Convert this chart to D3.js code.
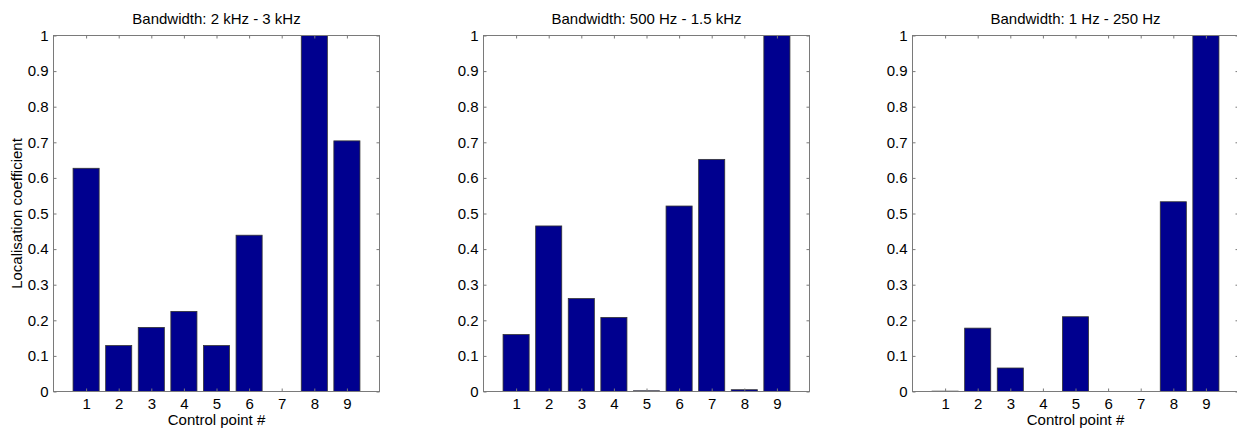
<!DOCTYPE html>
<html>
<head>
<meta charset="utf-8">
<script src="https://cdn.jsdelivr.net/npm/d3@7"></script>
<style>
  body { margin: 0; background: #fff; }
  svg text { font-family: "Liberation Sans", Arial, sans-serif; fill: #000; }
</style>
</head>
<body>
<svg id="chart" width="1237" height="429"></svg>
<script>
// control point numbers on the x axis
var controlPoints = [1, 2, 3, 4, 5, 6, 7, 8, 9];

// localisation coefficient per bandwidth
var band2to3k    = [0.627, 0.129, 0.180, 0.225, 0.129, 0.439, 0.000, 1.000, 0.704];
var band500to1k5 = [0.160, 0.465, 0.261, 0.208, 0.002, 0.521, 0.652, 0.005, 1.000];
var band1to250   = [0.001, 0.178, 0.066, 0.000, 0.210, 0.000, 0.000, 0.533, 1.000];

var titles = ["Bandwidth: 2 kHz - 3 kHz", "Bandwidth: 500 Hz - 1.5 kHz", "Bandwidth: 1 Hz - 250 Hz"];
var yTicks = [0, 0.1, 0.2, 0.3, 0.4, 0.5, 0.6, 0.7, 0.8, 0.9, 1];

var panels = [
  { title: titles[0], values: band2to3k,    left: 53.5,  ylabel: true,  xlabel: true },
  { title: titles[1], values: band500to1k5, left: 483.5, ylabel: false, xlabel: false },
  { title: titles[2], values: band1to250,   left: 912.5, ylabel: false, xlabel: true }
];

var svg = d3.select("#chart");
var plotTop = 35.5, plotBottom = 391.5, plotWidth = 326;
var axisColor = "#7a7a7a";
var fontSize = 15;

panels.forEach(function(p) {
  var x = d3.scaleLinear().domain([0, 10]).range([p.left, p.left + plotWidth]);
  var y = d3.scaleLinear().domain([0, 1]).range([plotBottom, plotTop]);
  var g = svg.append("g");

  // bars, MATLAB style width 0.8
  g.selectAll("rect.bar")
    .data(p.values)
    .enter().append("rect")
      .attr("class", "bar")
      .attr("x", function(d, i) { return x(controlPoints[i] - 0.4); })
      .attr("width", x(0.8) - x(0))
      .attr("y", function(d) { return y(d); })
      .attr("height", function(d) { return y(0) - y(d); })
      .attr("fill", "#00008f")
      .attr("stroke", "#333")
      .attr("stroke-width", 0.8);

  // box
  g.append("rect")
    .attr("x", p.left).attr("y", plotTop)
    .attr("width", plotWidth).attr("height", plotBottom - plotTop)
    .attr("fill", "none").attr("stroke", axisColor).attr("stroke-width", 1);

  // x axis (ticks inside) + mirrored top ticks
  g.append("g").attr("transform", "translate(0," + plotBottom + ")")
    .call(d3.axisBottom(x).tickValues(controlPoints).tickSize(-3).tickPadding(7));
  g.append("g").attr("transform", "translate(0," + plotTop + ")")
    .call(d3.axisTop(x).tickValues(controlPoints).tickSize(-3).tickFormat(""));

  // y axis + mirrored right ticks
  g.append("g").attr("transform", "translate(" + p.left + ",0)")
    .call(d3.axisLeft(y).tickValues(yTicks).tickSize(-3).tickPadding(5).tickFormat(d3.format("~g")));
  g.append("g").attr("transform", "translate(" + (p.left + plotWidth) + ",0)")
    .call(d3.axisRight(y).tickValues(yTicks).tickSize(-3).tickFormat(""));

  g.selectAll(".domain").remove();
  g.selectAll(".tick line").attr("stroke", axisColor);
  g.selectAll(".tick text").attr("font-size", fontSize).attr("fill", "#000")
    .attr("font-family", "Liberation Sans, Arial, sans-serif");

  g.append("text")
    .attr("x", p.left + plotWidth / 2).attr("y", 24)
    .attr("text-anchor", "middle").attr("font-size", fontSize)
    .text(p.title);

  if (p.xlabel) {
    g.append("text")
      .attr("x", p.left + plotWidth / 2).attr("y", 425)
      .attr("text-anchor", "middle").attr("font-size", fontSize)
      .text("Control point #");
  }
  if (p.ylabel) {
    g.append("text")
      .attr("transform", "translate(22," + (plotTop + plotBottom) / 2 + ") rotate(-90)")
      .attr("text-anchor", "middle").attr("font-size", fontSize)
      .text("Localisation coefficient");
  }
});
</script>
</body>
</html>
